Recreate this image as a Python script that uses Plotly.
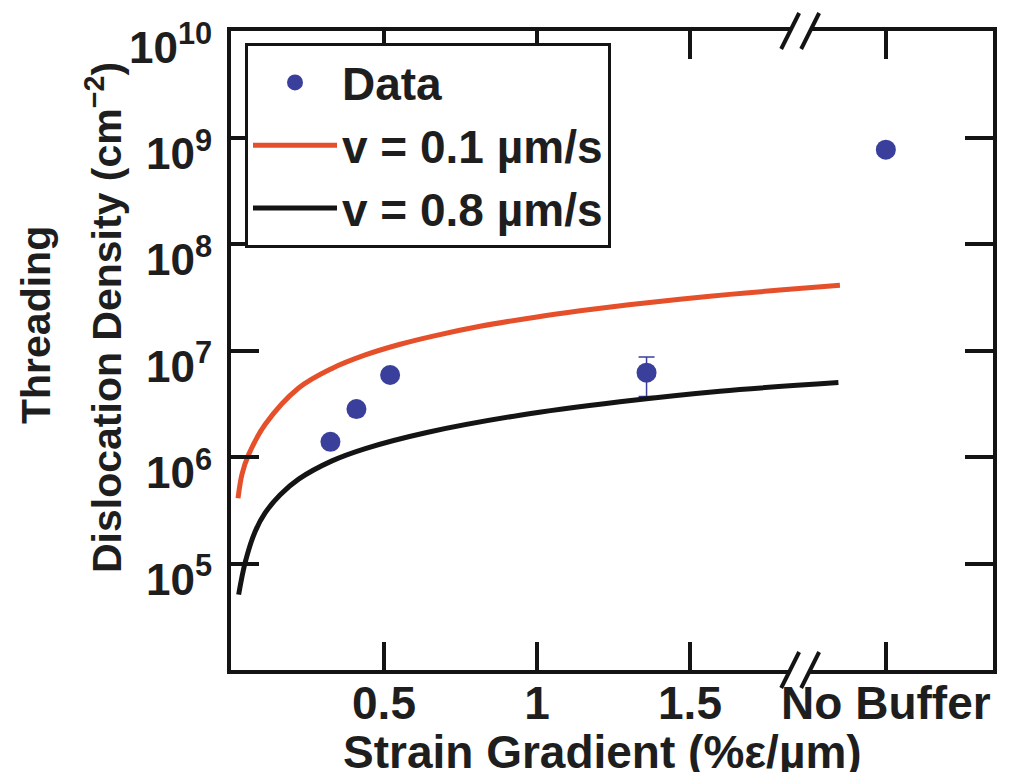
import plotly.graph_objects as go

# ---- data ----
data_x = [0.325, 0.41, 0.52, 1.358, 2.14]
data_y = [1.39e6, 2.82e6, 5.9e6, 6.2e6, 7.7e8]
data_err = [None, None, None, 2.5e6, None]

red_x = [0.023, 0.036, 0.058, 0.112, 0.221, 0.33, 0.439, 0.55, 0.657, 0.814, 1.0, 1.141, 1.3, 1.467, 1.63, 1.794, 1.99]
red_y = [4.1e5, 6.9e5, 1.06e6, 2.03e6, 4.45e6, 6.8e6, 9.1e6, 1.14e7, 1.36e7, 1.69e7, 2.07e7, 2.36e7, 2.69e7, 3.03e7, 3.37e7, 3.7e7, 4.1e7]

black_x = [0.025, 0.047, 0.079, 0.112, 0.16, 0.221, 0.33, 0.439, 0.64, 0.944, 1.271, 1.598, 1.985]
black_y = [5.1e4, 1.04e5, 2.0e5, 3.0e5, 4.4e5, 6.2e5, 9.2e5, 1.2e6, 1.7e6, 2.47e6, 3.3e6, 4.15e6, 5.0e6]

x_tickvals = [0.5, 1, 1.5, 2.14]
x_ticktext = ["0.5", "1", "1.5", "No Buffer"]
y_tickvals = [1e5, 1e6, 1e7, 1e8, 1e9, 1e10]
y_ticktext = ["10<sup>5</sup>", "10<sup>6</sup>", "10<sup>7</sup>", "10<sup>8</sup>", "10<sup>9</sup>", "10<sup>10</sup>"]
x_break = 1.86

FONT = "Liberation Sans, Arial, sans-serif"
TXT = "#1e1e1e"
BLUE = "#3a3f9c"
RED = "#e5502b"
BLK = "#141414"

OFF = 8  # page body margin
W, H = 1034 - OFF, 777 - OFF
ML, MT = 231 - OFF, 31 - OFF
pw = 993 - 231
ph = 670 - 31
MR = W - ML - pw
MB = H - MT - ph
x_range = [0, pw / 306.0]


def px_x(p):
    return (p - OFF - ML) / pw


def px_y(p):
    return 1 - (p - OFF - MT) / ph


fig = go.Figure()
fig.add_trace(go.Scatter(
    x=data_x, y=data_y, mode="markers", name="Data",
    marker=dict(color=BLUE, size=20),
    error_y=dict(type="data", array=data_err, color=BLUE, thickness=1.5, width=8),
))
fig.add_trace(go.Scatter(
    x=red_x, y=red_y, mode="lines", name="v = 0.1 µm/s",
    line=dict(color=RED, width=5, shape="spline", smoothing=1.0),
))
fig.add_trace(go.Scatter(
    x=black_x, y=black_y, mode="lines", name="v = 0.8 µm/s",
    line=dict(color=BLK, width=5, shape="spline", smoothing=1.0),
))

axis_common = dict(
    showline=True, linecolor=BLK, linewidth=4, mirror="ticks",
    ticks="inside", ticklen=28, tickwidth=4, tickcolor=BLK,
    showgrid=False, zeroline=False,
)

fig.update_xaxes(
    range=x_range, tickvals=x_tickvals, ticktext=x_ticktext,
    tickfont=dict(family=FONT, size=46, color=TXT, weight="bold"),
    ticklabelstandoff=-10,
    **axis_common,
)
fig.update_yaxes(
    type="log", range=[4, 10.001], tickvals=y_tickvals, ticktext=y_ticktext,
    tickfont=dict(family=FONT, size=44, color=TXT, weight="bold"),
    ticklabelstandoff=6, ticklabelshift=16, ticklabeloverflow="allow",
    **axis_common,
)

# axis break marks
bx = (x_break - x_range[0]) / (x_range[1] - x_range[0])
dxp = 10.0 / pw
hw = 9.0 / pw
hh = 18.0 / ph
shapes = []
for yp in (0.0, 1.0):
    shapes.append(dict(type="line", xref="paper", yref="paper", x0=bx - dxp, x1=bx + dxp,
                       y0=yp, y1=yp, line=dict(color="white", width=8), layer="above"))
    for c in (bx - dxp, bx + dxp):
        shapes.append(dict(type="line", xref="paper", yref="paper", x0=c - hw, x1=c + hw,
                           y0=yp - hh, y1=yp + hh, line=dict(color=BLK, width=4), layer="above"))

title_font = dict(family=FONT, color=TXT, weight="bold")
annotations = [
    dict(text="Strain Gradient (%ε/µm)", xref="paper", yref="paper",
         x=px_x(602), y=px_y(752), xanchor="center", yanchor="middle", showarrow=False,
         height=40, font=dict(size=46, **title_font)),
    dict(text="Threading", xref="paper", yref="paper", textangle=-90,
         x=px_x(36), y=px_y(325), xanchor="center", yanchor="middle", showarrow=False,
         font=dict(size=41, **title_font)),
    dict(text="Dislocation Density (cm<sup>−2</sup>)", xref="paper", yref="paper", textangle=-90,
         x=px_x(104), y=px_y(318), xanchor="center", yanchor="middle", showarrow=False,
         font=dict(size=41, **title_font)),
]

fig.update_layout(
    width=W, height=H,
    margin=dict(l=ML, r=MR, t=MT, b=MB, autoexpand=False),
    paper_bgcolor="white", plot_bgcolor="white",
    font=dict(family=FONT, size=44, color=TXT),
    showlegend=True,
    legend=dict(
        x=px_x(245), y=px_y(43), xanchor="left", yanchor="top",
        bgcolor="white", bordercolor=BLK, borderwidth=3,
        font=dict(family=FONT, size=46, color=TXT, weight="bold"),
        itemwidth=84,
    ),
    shapes=shapes,
    annotations=annotations,
)

fig.write_html("out.html")
